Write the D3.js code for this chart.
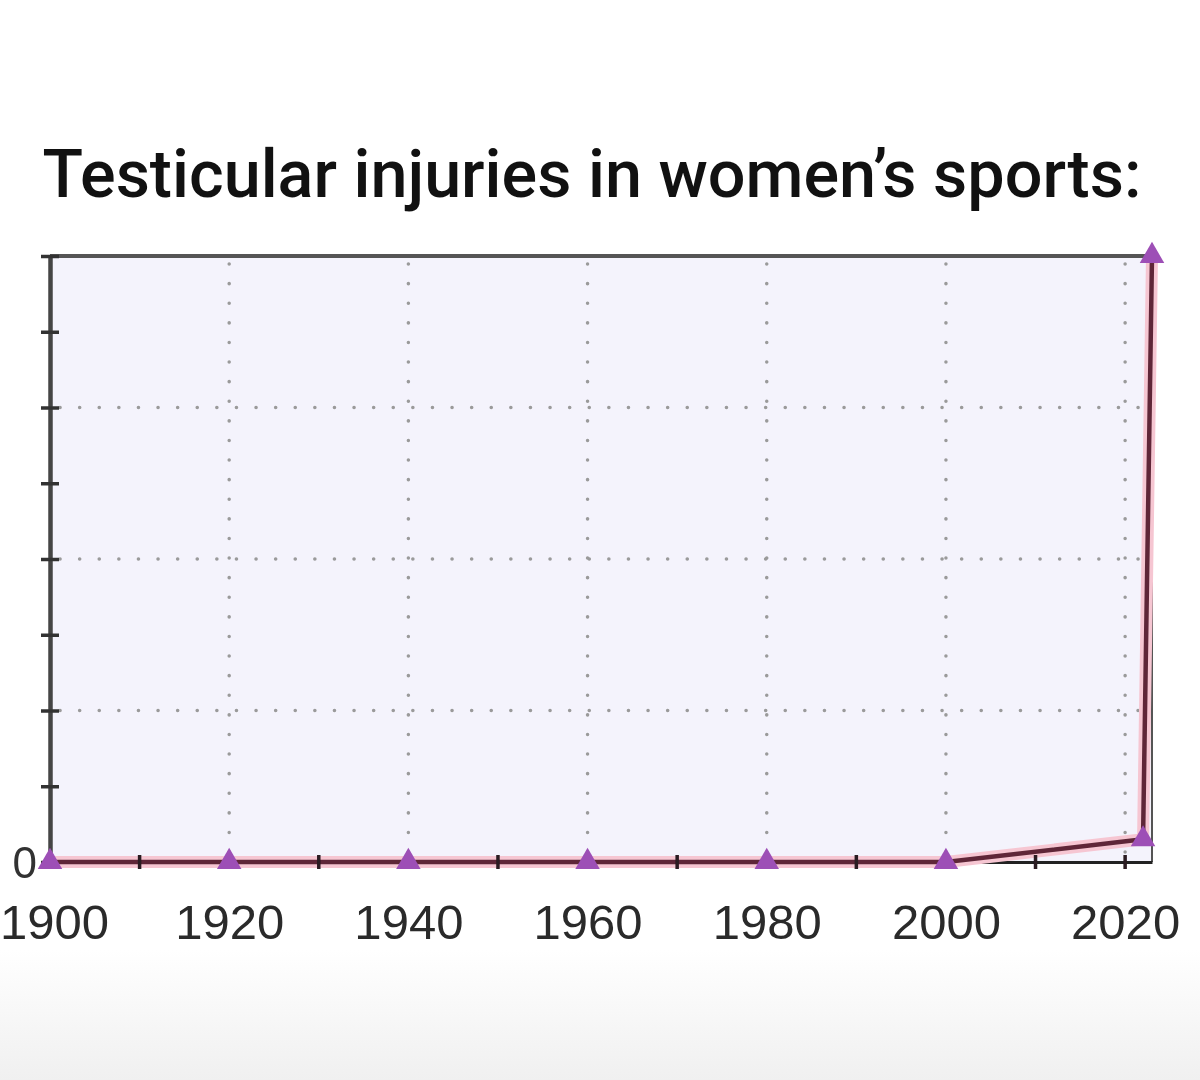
<!DOCTYPE html>
<html>
<head>
<meta charset="utf-8">
<script src="https://cdn.jsdelivr.net/npm/d3@7"></script>
<style>
  html, body { margin: 0; padding: 0; }
  body { width: 1200px; height: 1080px; overflow: hidden; background: #fff; }
</style>
</head>
<body>
<svg id="chart"></svg>
<script>
// Testicular injuries in women's sports

var width = 1200,
    height = 1080;

// data
const years = [1900, 1920, 1940, 1960, 1980, 2000, 2022, 2023];
const injuries = [0, 0, 0, 0, 0, 0, 0.3, 8];
const yearTicks = [1900, 1920, 1940, 1960, 1980, 2000, 2020];
const minorTicks = [1910, 1930, 1950, 1970, 1990, 2010];
const yTicks = [0, 1, 2, 3, 4, 5, 6, 7, 8];
const yGrid = [2, 4, 6];
const title = "Testicular injuries in women\u2019s sports:";

var x = d3.scaleLinear().domain([1900, 2023]).range([50, 1152]),
    y = d3.scaleLinear().domain([0, 8]).range([862, 256]);

var svg = d3.select("#chart")
    .attr("width", width)
    .attr("height", height);

// faint grey fade at the bottom of the screenshot
var defs = svg.append("defs");
var grad = defs.append("linearGradient")
    .attr("id", "fade")
    .attr("x1", 0).attr("x2", 0).attr("y1", 0).attr("y2", 1);
grad.append("stop").attr("offset", "0%").attr("stop-color", "#ffffff");
grad.append("stop").attr("offset", "100%").attr("stop-color", "#f0f0f0");

svg.append("rect")
    .attr("x", 0).attr("y", 950)
    .attr("width", width).attr("height", height - 950)
    .attr("fill", "url(#fade)");

defs.append("filter").attr("id", "soft")
  .append("feGaussianBlur").attr("stdDeviation", 0.7);

// title
svg.append("text")
    .attr("x", 592)
    .attr("y", 197)
    .attr("text-anchor", "middle")
    .style("font-family", "Roboto, sans-serif")
    .style("font-size", "66.5px")
    .style("font-weight", 500)
    .style("fill", "#111")
    .text(title);

var x0 = x.range()[0], x1 = x.range()[1],
    y0 = y.range()[0], y1 = y.range()[1];

// plot background
svg.append("rect")
    .attr("x", x0).attr("y", y1)
    .attr("width", x1 - x0).attr("height", y0 - y1)
    .attr("fill", "#f4f3fc");

var plot = svg.append("g").attr("filter", "url(#soft)");

// dotted grid
plot.selectAll(".vgrid")
  .data(yearTicks.slice(1))
  .enter().append("line")
    .attr("class", "vgrid")
    .attr("x1", d => x(d)).attr("x2", d => x(d))
    .attr("y1", y1 + 8).attr("y2", y0)
    .attr("stroke", "#9a9a9a")
    .attr("stroke-width", 3.5)
    .attr("stroke-linecap", "round")
    .attr("stroke-dasharray", "0.1,19.5");

plot.selectAll(".hgrid")
  .data(yGrid)
  .enter().append("line")
    .attr("class", "hgrid")
    .attr("x1", x0 + 10).attr("x2", x1 - 10)
    .attr("y1", d => y(d)).attr("y2", d => y(d))
    .attr("stroke", "#9a9a9a")
    .attr("stroke-width", 3.5)
    .attr("stroke-linecap", "round")
    .attr("stroke-dasharray", "0.1,19.5");

// frame: top and right
plot.append("line")
    .attr("x1", x0).attr("x2", x1)
    .attr("y1", y1).attr("y2", y1)
    .attr("stroke", "#555").attr("stroke-width", 4);
plot.append("line")
    .attr("x1", x1).attr("x2", x1)
    .attr("y1", y1).attr("y2", y0)
    .attr("stroke", "#555").attr("stroke-width", 2);

// y axis
var yAxis = d3.axisLeft(y)
    .tickValues(yTicks)
    .tickSize(0)
    .tickFormat(d => d === 0 ? "0" : "");
var gy = plot.append("g")
    .attr("transform", `translate(${x0},0)`)
    .call(yAxis);
gy.select(".domain").attr("stroke", "#444").attr("stroke-width", 4.5);
gy.selectAll(".tick line")
    .attr("x1", -9).attr("x2", 9)
    .attr("stroke", "#333").attr("stroke-width", 3.5);
gy.selectAll(".tick text")
    .attr("x", -13)
    .attr("dy", "0.35em")
    .style("font-family", "'Liberation Sans', Arial, sans-serif")
    .style("font-size", "44px")
    .style("fill", "#333");

// x axis
var xAxis = d3.axisBottom(x)
    .tickValues(yearTicks)
    .tickSize(0)
    .tickFormat(d3.format("d"));
var gx = plot.append("g")
    .attr("transform", `translate(0,${y0})`)
    .call(xAxis);
gx.select(".domain").attr("stroke", "#222").attr("stroke-width", 3);
gx.selectAll(".tick line").remove();
gx.selectAll(".tick text")
    .attr("y", 77)
    .attr("dy", 0)
    .attr("x", d => d === 1900 ? 4 : 0)
    .style("font-family", "'Liberation Sans', Arial, sans-serif")
    .style("font-size", "49px")
    .style("fill", "#2a2a2a");

// the series
var pts = years.map((d, i) => [d, injuries[i]]);
var line = d3.line()
    .x(d => x(d[0]))
    .y(d => y(d[1]));

plot.append("path")
    .datum(pts)
    .attr("d", line)
    .attr("fill", "none")
    .attr("stroke", "#f6c6d2")
    .attr("stroke-width", 12)
    .attr("stroke-linejoin", "round");

plot.append("path")
    .datum(pts)
    .attr("d", line)
    .attr("fill", "none")
    .attr("stroke", "#5e2838")
    .attr("stroke-width", 4.5)
    .attr("stroke-linejoin", "round");

// x ticks drawn over the line
plot.selectAll(".xtick")
  .data(yearTicks.concat(minorTicks))
  .enter().append("line")
    .attr("class", "xtick")
    .attr("x1", d => x(d)).attr("x2", d => x(d))
    .attr("y1", y0 - 7).attr("y2", y0 + 7)
    .attr("stroke", "#2a1a20").attr("stroke-width", 3.5);

plot.selectAll(".marker")
  .data(pts)
  .enter().append("path")
    .attr("class", "marker")
    .attr("transform", d => `translate(${x(d[0])},${y(d[1])})`)
    .attr("d", d3.symbol().type(d3.symbolTriangle).size(260))
    .attr("fill", "#9d4fb6");
</script>
</body>
</html>
